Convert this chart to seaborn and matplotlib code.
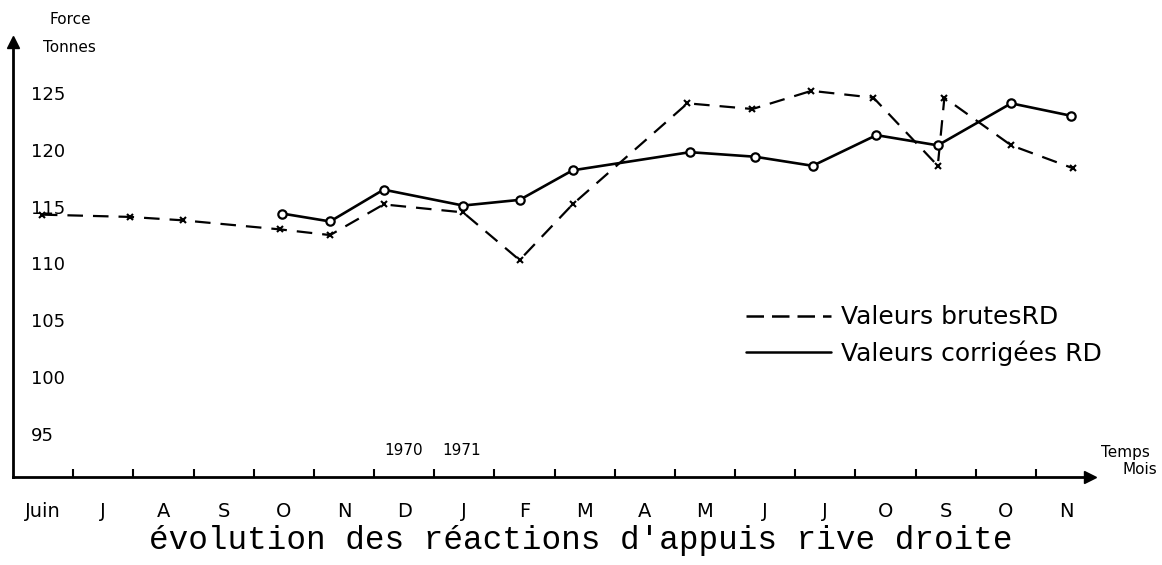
import matplotlib
matplotlib.use("Agg")
import matplotlib.pyplot as plt
from matplotlib.lines import Line2D
import seaborn as sns
import pandas as pd

# ---- data (x in months from start of June 1970) ----
brutes_t = [0.48, 1.94, 2.82, 4.44, 5.27, 6.16, 7.48, 8.42, 9.30, 11.21, 12.29,
            13.27, 14.30, 15.37, 15.48, 16.59, 17.61]
brutes_v = [114.3, 114.1, 113.8, 113.0, 112.5, 115.2, 114.5, 110.3, 115.2, 124.1,
            123.6, 125.2, 124.6, 118.6, 124.6, 120.4, 118.4]
corr_t = [4.47, 5.27, 6.16, 7.48, 8.42, 9.30, 11.25, 12.33, 13.29, 14.35, 15.37,
          16.59, 17.59]
corr_v = [114.4, 113.7, 116.5, 115.1, 115.6, 118.2, 119.8, 119.4, 118.6, 121.3,
          120.4, 124.1, 123.0]
months = ["Juin", "J", "A", "S", "O", "N", "D", "J", "F", "M", "A", "M", "J",
          "J", "O", "S", "O", "N"]
y_labels = [95, 100, 105, 110, 115, 120, 125]
y_marked = [100, 110, 120]
legend_labels = ["Valeurs brutesRD", "Valeurs corrigées RD"]
title = "évolution des réactions d'appuis rive droite"

df_b = pd.DataFrame({"t": brutes_t, "v": brutes_v})
df_c = pd.DataFrame({"t": corr_t, "v": corr_v})

sns.set_style("white")
plt.rcParams["font.family"] = ["DejaVu Sans"]
plt.rcParams["text.color"] = "black"
plt.rcParams["xtick.color"] = "black"
plt.rcParams["ytick.color"] = "black"
plt.rcParams["xtick.labelcolor"] = "black"
plt.rcParams["ytick.labelcolor"] = "black"

fig = plt.figure(figsize=(11.62, 5.65), dpi=100)
ax = fig.add_axes([13 / 1162, 88 / 565, 1077 / 1162, 435 / 565])

sns.lineplot(data=df_b, x="t", y="v", ax=ax, sort=False, color="black",
             linewidth=1.6, marker="x", markersize=5, markeredgecolor="black",
             markeredgewidth=1.5, estimator=None)
ax.lines[-1].set_dashes((7, 4.5))
sns.lineplot(data=df_c, x="t", y="v", ax=ax, sort=False, color="black",
             linewidth=1.9, marker="o", markersize=6, markerfacecolor="white",
             markeredgecolor="black", markeredgewidth=1.6, estimator=None)

ax.set_xlim(0, 17.9)
ax.set_ylim(91.2, 129.5)
ax.set_xlabel("")
ax.set_ylabel("")

for s in ["top", "right"]:
    ax.spines[s].set_visible(False)
for s in ["left", "bottom"]:
    ax.spines[s].set_linewidth(2.0)
    ax.spines[s].set_color("black")

# arrows on axes
ax.plot(1, 0, ">k", transform=ax.transAxes, clip_on=False, markersize=9)
ax.plot(0, 1, "^k", transform=ax.transAxes, clip_on=False, markersize=9)

# x ticks: month boundaries, labels centred in months
ax.set_xticks(range(1, 18))
ax.set_xticklabels([])
ax.set_xticks([i + 0.5 for i in range(len(months))], minor=True)
ax.set_xticklabels(months, minor=True, fontsize=14)
ax.tick_params(axis="x", which="major", direction="in", length=6, width=1.5,
               bottom=True)
ax.tick_params(axis="x", which="minor", length=0, pad=18, bottom=True)

# y labels inside the axis
ax.set_yticks(y_labels)
ax.set_yticklabels([str(v) for v in y_labels], fontsize=13)
for lab in ax.get_yticklabels():
    lab.set_horizontalalignment("left")
ax.tick_params(axis="y", which="major", length=0, pad=-13, left=True)
ax.set_yticks(y_marked, minor=True)
ax.tick_params(axis="y", which="minor", direction="in", length=8, width=1.8,
               left=True)

# year markers
ax.text(6.5, 93.5, "1970", ha="center", va="center", fontsize=11)
ax.text(7.46, 93.5, "1971", ha="center", va="center", fontsize=11)

# legend
handles = [Line2D([], [], color="black", linewidth=1.8, dashes=(7, 3.2)),
           Line2D([], [], color="black", linewidth=1.8)]
ax.legend(handles, legend_labels, loc="center left",
          bbox_to_anchor=(0.66, 0.325), frameon=False, fontsize=18,
          handlelength=3.4, handletextpad=0.4, labelspacing=0.45)

# axis captions
fig.text(70 / 1162, 1 - 20 / 565, "Force", ha="center", va="center", fontsize=11)
fig.text(69 / 1162, 1 - 47 / 565, "Tonnes", ha="center", va="center", fontsize=11)
fig.text(1125 / 1162, 1 - 452 / 565, "Temps", ha="center", va="center", fontsize=11)
fig.text(1140 / 1162, 1 - 470 / 565, "Mois", ha="center", va="center", fontsize=11)

fig.text(0.5, 1 - 540 / 565, title, ha="center", va="center",
         family="Liberation Mono", fontsize=23.5)

fig.savefig("out.png", dpi=100, facecolor="white")
